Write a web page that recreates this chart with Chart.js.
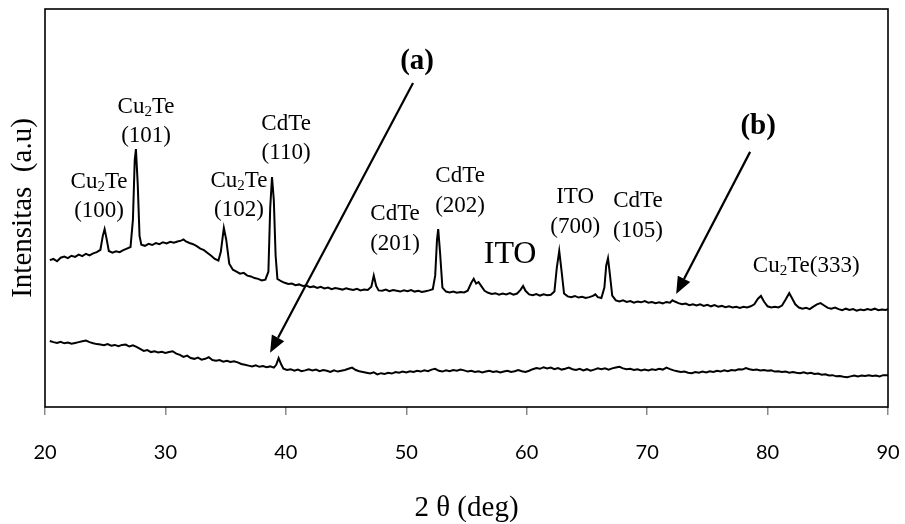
<!DOCTYPE html>
<html>
<head>
<meta charset="utf-8">
<script src="https://cdn.jsdelivr.net/npm/chart.js@4.4.1/dist/chart.umd.min.js"></script>
<style>
html,body{margin:0;padding:0;background:#fff;}
#wrap{width:905px;height:524px;}
</style>
</head>
<body>
<div id="wrap"><canvas id="c" width="905" height="524"></canvas></div>
<script>
// ---- data (2θ in degrees, intensity in arbitrary units) ----
const xTicks = [20, 30, 40, 50, 60, 70, 80, 90];

// sample (b): film with peaks
const traceB = [
[20.4,369],[20.7,372],[21.0,366],[21.3,375],[21.6,378],[21.9,374],[22.2,380],[22.5,377],[22.8,383],[23.1,379],
[23.4,385],[23.7,381],[24.0,386],[24.3,389],[24.6,395],[24.8,430],[24.95,447],[25.1,425],[25.3,392],[25.6,388],
[25.9,391],[26.2,389],[26.5,394],[26.8,398],[27.1,402],[27.3,470],[27.45,620],[27.55,648],[27.7,560],[27.85,430],
[28.0,408],[28.3,405],[28.6,410],[28.9,407],[29.2,412],[29.5,409],[29.8,414],[30.1,411],[30.4,415],[30.7,413],
[31.0,416],[31.3,418],[31.5,421],[31.7,416],[32.0,412],[32.3,409],[32.6,404],[32.9,398],[33.2,394],[33.5,387],
[33.8,380],[34.1,372],[34.4,368],[34.6,390],[34.85,450],[35.05,420],[35.3,360],[35.6,345],[35.9,340],[36.2,335],
[36.5,337],[36.8,330],[37.1,328],[37.4,324],[37.7,322],[38.0,318],[38.3,320],[38.55,340],[38.7,500],[38.85,578],
[39.0,520],[39.15,380],[39.3,322],[39.6,316],[39.9,312],[40.2,309],[40.5,310],[40.8,306],[41.1,308],[41.4,304],
[41.7,305],[42.0,301],[42.3,303],[42.6,299],[42.9,302],[43.2,298],[43.5,300],[43.8,296],[44.1,299],[44.4,297],
[44.7,295],[45.0,298],[45.3,296],[45.6,294],[45.9,297],[46.2,293],[46.5,295],[46.8,294],[47.1,302],[47.3,330],
[47.5,304],[47.7,293],[48.0,292],[48.3,295],[48.6,291],[48.9,294],[49.2,292],[49.5,290],[49.8,293],[50.1,291],
[50.4,294],[50.7,290],[51.0,292],[51.3,289],[51.6,291],[51.9,293],[52.2,296],[52.4,330],[52.55,420],[52.65,447],
[52.8,390],[53.0,300],[53.3,290],[53.6,288],[53.9,290],[54.2,287],[54.5,289],[54.8,288],[55.1,292],[55.4,312],
[55.6,322],[55.8,310],[56.0,314],[56.2,305],[56.5,292],[56.8,287],[57.1,284],[57.4,286],[57.7,282],[58.0,285],
[58.3,283],[58.6,286],[58.9,282],[59.2,285],[59.5,295],[59.7,304],[59.9,292],[60.2,283],[60.5,281],[60.8,284],
[61.1,280],[61.4,283],[61.7,281],[62.0,282],[62.3,290],[62.5,350],[62.7,392],[62.9,340],[63.1,285],[63.4,278],
[63.7,276],[64.0,279],[64.3,275],[64.6,277],[64.9,274],[65.2,276],[65.5,279],[65.7,283],[65.9,276],[66.2,274],
[66.45,300],[66.6,355],[66.75,374],[66.9,335],[67.1,280],[67.4,268],[67.7,265],[68.0,268],[68.3,264],[68.6,266],
[68.9,262],[69.2,265],[69.5,263],[69.8,266],[70.1,262],[70.4,264],[70.7,261],[71.0,263],[71.3,260],[71.6,264],
[71.9,262],[72.1,268],[72.3,265],[72.6,261],[72.9,258],[73.2,260],[73.5,256],[73.8,258],[74.1,255],[74.4,258],
[74.7,254],[75.0,257],[75.3,253],[75.6,256],[75.9,252],[76.2,254],[76.5,251],[76.8,253],[77.1,250],[77.4,252],
[77.7,249],[78.0,252],[78.3,250],[78.6,253],[78.9,258],[79.2,272],[79.45,279],[79.7,265],[80.0,253],[80.3,250],
[80.6,252],[80.9,250],[81.2,255],[81.5,270],[81.8,286],[82.0,275],[82.3,258],[82.6,250],[82.9,247],[83.2,249],
[83.5,246],[83.8,252],[84.1,258],[84.4,261],[84.7,255],[85.0,249],[85.3,247],[85.6,250],[85.9,246],[86.2,243],
[86.5,247],[86.8,244],[87.1,246],[87.4,242],[87.7,245],[88.0,243],[88.3,246],[88.6,244],[88.9,247],[89.2,243],
[89.5,245],[89.8,244],[90.0,246]
];

// sample (a): nearly amorphous
const traceA = [
[20.4,166],[20.7,163],[21.0,161],[21.3,164],[21.6,160],[21.9,162],[22.2,159],[22.5,161],[22.8,163],[23.1,165],
[23.4,167],[23.7,163],[24.0,160],[24.3,158],[24.6,157],[24.9,155],[25.2,158],[25.5,154],[25.8,156],[26.1,153],
[26.4,156],[26.7,157],[27.0,152],[27.3,155],[27.6,151],[27.9,146],[28.2,141],[28.5,143],[28.8,138],[29.1,140],
[29.4,137],[29.7,139],[30.0,136],[30.3,138],[30.6,140],[30.9,134],[31.2,131],[31.5,126],[31.8,129],[32.1,123],
[32.4,121],[32.7,124],[33.0,119],[33.3,121],[33.6,125],[33.9,118],[34.2,116],[34.5,118],[34.8,114],[35.1,116],
[35.4,113],[35.7,115],[36.0,112],[36.3,108],[36.6,106],[36.9,104],[37.2,102],[37.5,105],[37.8,101],[38.1,103],
[38.4,100],[38.7,102],[39.0,99],[39.2,106],[39.4,123],[39.6,108],[39.8,96],[40.1,93],[40.4,95],[40.7,91],
[41.0,94],[41.3,90],[41.6,92],[41.9,95],[42.2,92],[42.5,94],[42.8,90],[43.1,93],[43.4,91],[43.7,88],
[44.0,92],[44.3,89],[44.6,91],[44.9,93],[45.2,96],[45.5,99],[45.8,93],[46.1,90],[46.4,88],[46.7,86],
[47.0,84],[47.3,87],[47.6,82],[47.9,85],[48.2,83],[48.5,86],[48.8,84],[49.1,88],[49.4,86],[49.7,89],
[50.0,87],[50.3,90],[50.6,88],[50.9,91],[51.2,89],[51.5,92],[51.8,90],[52.1,94],[52.4,96],[52.7,91],
[53.0,89],[53.3,92],[53.6,90],[53.9,93],[54.2,91],[54.5,94],[54.8,92],[55.1,89],[55.4,91],[55.7,88],
[56.0,90],[56.3,87],[56.6,89],[56.9,91],[57.2,88],[57.5,90],[57.8,87],[58.1,89],[58.4,91],[58.7,88],
[59.0,90],[59.3,93],[59.6,90],[59.9,88],[60.2,91],[60.5,95],[60.8,98],[61.1,96],[61.4,100],[61.7,97],
[62.0,99],[62.3,95],[62.6,98],[62.9,94],[63.2,96],[63.5,99],[63.8,95],[64.1,93],[64.4,96],[64.7,92],
[65.0,95],[65.3,91],[65.6,94],[65.9,97],[66.2,95],[66.5,97],[66.8,94],[67.1,97],[67.4,99],[67.7,101],
[68.0,97],[68.3,95],[68.6,96],[68.9,93],[69.2,95],[69.5,92],[69.8,94],[70.1,92],[70.4,95],[70.7,93],
[71.0,96],[71.3,94],[71.6,99],[71.9,95],[72.2,92],[72.5,90],[72.8,88],[73.1,89],[73.4,86],[73.7,85],
[74.0,88],[74.3,86],[74.6,89],[74.9,87],[75.2,90],[75.5,88],[75.8,91],[76.1,89],[76.4,92],[76.7,90],
[77.0,93],[77.3,92],[77.6,95],[77.9,94],[78.2,98],[78.5,95],[78.8,93],[79.1,94],[79.4,92],[79.7,93],
[80.0,91],[80.3,92],[80.6,89],[80.9,90],[81.2,88],[81.5,89],[81.8,86],[82.1,88],[82.4,86],[82.7,85],
[83.0,87],[83.3,84],[83.6,86],[83.9,83],[84.2,84],[84.5,81],[84.8,82],[85.1,79],[85.4,80],[85.7,77],
[86.0,78],[86.3,76],[86.6,75],[86.9,77],[87.2,79],[87.5,77],[87.8,79],[88.1,78],[88.4,80],[88.7,78],
[89.0,79],[89.3,77],[89.6,80],[90.0,80]
];

// peak labels: lines of text ("_" marks a subscript digit), anchored at (2θ, intensity)
const peakLabels = [
  {lines:['Cu_2Te','(100)'], x:24.49, y:[565,492]},
  {lines:['Cu_2Te','(101)'], x:28.39, y:[754,681]},
  {lines:['Cu_2Te','(102)'], x:36.11, y:[568,495]},
  {lines:['CdTe','(110)'],   x:40.02, y:[711,638]},
  {lines:['CdTe','(201)'],   x:49.07, y:[485,410]},
  {lines:['CdTe','(202)'],   x:54.47, y:[580,505]},
  {lines:['ITO','(700)'],    x:64.02, y:[528,452]},
  {lines:['CdTe','(105)'],   x:69.24, y:[518,442]},
  {lines:['Cu_2Te(333)'],    x:83.21, y:[354]}
];
const bigLabels = [{text:'ITO', x:58.62, y:382}];
const sampleLabels = [{text:'(a)', x:50.90, y:867}, {text:'(b)', x:79.22, y:704}];
// arrows: from (x1,y1) to tip (x2,y2) in data units
const arrows = [
  {x1:50.56, y1:814, x2:38.69, y2:136},
  {x1:78.55, y1:641, x2:72.41, y2:284}
];

const SERIF = '"Liberation Serif","Times New Roman",Times,serif';

function drawRich(ctx, text, cx, cy, size){
  const segs = [];
  let i = 0, buf = '';
  while (i < text.length){
    if (text[i] === '_'){ if(buf){segs.push({t:buf,sub:false});buf='';} segs.push({t:text[i+1],sub:true}); i+=2; }
    else { buf += text[i]; i++; }
  }
  if (buf) segs.push({t:buf,sub:false});
  let w = 0;
  segs.forEach(s => { ctx.font = (s.sub? Math.round(size*0.66): size) + 'px ' + SERIF; s.w = ctx.measureText(s.t).width; w += s.w; });
  let x = cx - w/2;
  ctx.textAlign = 'left';
  ctx.textBaseline = 'middle';
  segs.forEach(s => {
    ctx.font = (s.sub? Math.round(size*0.66): size) + 'px ' + SERIF;
    ctx.fillText(s.t, x, cy + (s.sub ? size*0.22 : 0));
    x += s.w;
  });
}

const annotPlugin = {
  id: 'annot',
  afterDatasetsDraw(chart){
    const {ctx, scales:{x, y}} = chart;
    ctx.save();
    ctx.fillStyle = '#000';
    peakLabels.forEach(l => {
      l.lines.forEach((t, k) => drawRich(ctx, t, x.getPixelForValue(l.x), y.getPixelForValue(l.y[k]), 23));
    });
    bigLabels.forEach(l => {
      ctx.font = '32px ' + SERIF; ctx.textAlign='center'; ctx.textBaseline='middle';
      ctx.fillText(l.text, x.getPixelForValue(l.x), y.getPixelForValue(l.y));
    });
    sampleLabels.forEach(l => {
      ctx.font = 'bold 29px ' + SERIF; ctx.textAlign='center'; ctx.textBaseline='middle';
      ctx.fillText(l.text, x.getPixelForValue(l.x), y.getPixelForValue(l.y));
    });
    arrows.forEach(a => {
      const px1 = x.getPixelForValue(a.x1), py1 = y.getPixelForValue(a.y1);
      const px2 = x.getPixelForValue(a.x2), py2 = y.getPixelForValue(a.y2);
      const ang = Math.atan2(py2-py1, px2-px1);
      const hl = 17, hw = 7;
      const bx = px2 - hl*Math.cos(ang), by = py2 - hl*Math.sin(ang);
      ctx.strokeStyle = '#000'; ctx.lineWidth = 2.2;
      ctx.beginPath(); ctx.moveTo(px1, py1); ctx.lineTo(bx, by); ctx.stroke();
      ctx.beginPath();
      ctx.moveTo(px2, py2);
      ctx.lineTo(bx + hw*Math.sin(ang), by - hw*Math.cos(ang));
      ctx.lineTo(bx - hw*Math.sin(ang), by + hw*Math.cos(ang));
      ctx.closePath(); ctx.fill();
    });
    ctx.restore();
  },
  afterDraw(chart){
    const {ctx, chartArea:ca} = chart;
    ctx.save();
    ctx.strokeStyle = '#000'; ctx.lineWidth = 1.6;
    ctx.strokeRect(ca.left, ca.top, ca.right-ca.left, ca.bottom-ca.top);
    ctx.restore();
  }
};

new Chart(document.getElementById('c'), {
  type: 'line',
  data: {
    datasets: [
      {label:'(b)', data: traceB.map(p => ({x:p[0], y:p[1]})), borderColor:'#000', borderWidth:2, pointRadius:0, tension:0, fill:false},
      {label:'(a)', data: traceA.map(p => ({x:p[0], y:p[1]})), borderColor:'#000', borderWidth:2, pointRadius:0, tension:0, fill:false}
    ]
  },
  options: {
    responsive: false,
    animation: false,
    events: [],
    layout: {padding: {top: 9, right: 17, left: 0, bottom: 0}},
    plugins: {legend: {display:false}, tooltip: {enabled:false}},
    scales: {
      x: {
        type: 'linear', min: 20, max: 90,
        afterBuildTicks(scale){ scale.ticks = xTicks.map(v => ({value:v})); },
        afterFit(scale){ scale.height = 117; scale.paddingLeft = 0; scale.paddingRight = 0; },
        ticks: {color:'#000', font:{family:'Lato', size:20}, padding:26, maxRotation:0},
        grid: {drawOnChartArea:false, drawTicks:true, tickLength:8, color:'#8a8a8a', lineWidth:1.5},
        border: {display:false},
        title: {display:true, text:'2 θ (deg)', color:'#000', font:{family:SERIF, size:29}, padding:{top:0, bottom:-2}}
      },
      y: {
        min: 0, max: 1000,
        afterFit(scale){ scale.width = 45; scale.paddingTop = 0; scale.paddingBottom = 0; },
        ticks: {display:false},
        grid: {display:false},
        border: {display:false},
        title: {display:true, text:'Intensitas  (a.u)', color:'#000', font:{family:SERIF, size:29}, padding:{top:6, bottom:0}}
      }
    }
  },
  plugins: [annotPlugin]
});
</script>
</body>
</html>
